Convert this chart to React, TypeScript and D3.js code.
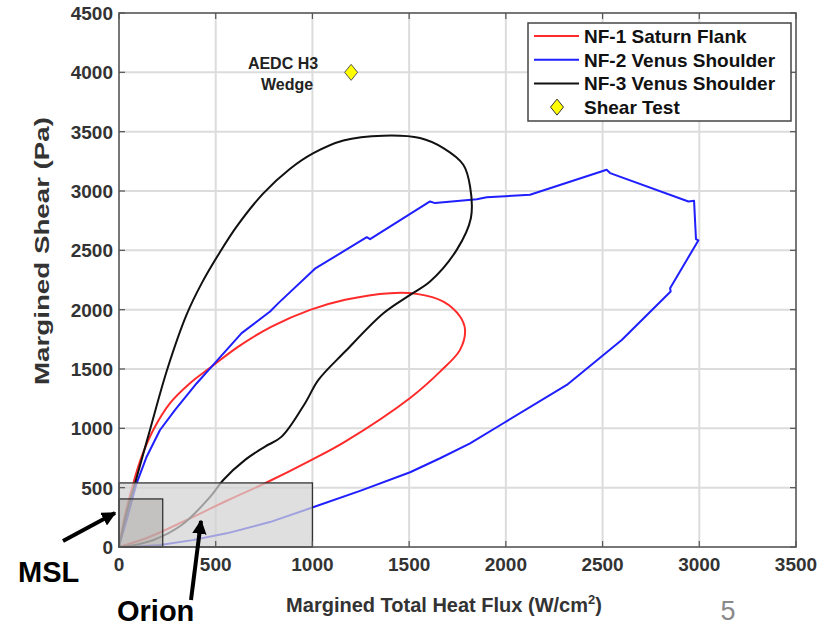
import React from "react";
import * as d3 from "d3";

// chart values
const xTicks = [0, 500, 1000, 1500, 2000, 2500, 3000, 3500];
const yTicks = [0, 500, 1000, 1500, 2000, 2500, 3000, 3500, 4000, 4500];

// NF-1 Saturn Flank  [heat flux, shear]
const nf1 = [
  [0, 0], [30, 260], [74, 537], [117, 761], [177, 986], [264, 1212], [367, 1380],
  [479, 1520], [617, 1689], [789, 1857], [988, 1998], [1169, 2083], [1401, 2139],
  [1539, 2133], [1677, 2068], [1763, 1942], [1789, 1830], [1763, 1661], [1660, 1478],
  [1505, 1256], [1169, 888], [996, 734], [755, 537], [565, 396], [350, 228], [150, 80],
  [0, 0],
];

// NF-2 Venus Shoulder
const nf2 = [
  [0, 0], [15, 90], [40, 230], [91, 537], [143, 761], [212, 986], [290, 1155], [402, 1380],
  [479, 1520], [634, 1802], [781, 1984], [824, 2055], [1013, 2345], [1281, 2611],
  [1298, 2594], [1608, 2912], [1634, 2898], [1850, 2931], [1901, 2948], [2125, 2968],
  [2521, 3179], [2539, 3151], [2944, 2912], [2973, 2917], [2983, 2594], [2995, 2583],
  [2849, 2181], [2852, 2153], [2599, 1745], [2315, 1366], [1987, 1043], [1815, 874],
  [1660, 748], [1505, 630], [1250, 475], [988, 326], [780, 210], [557, 115], [380, 58],
  [212, 17], [80, 3], [0, 0],
];

// NF-3 Venus Shoulder
const nf3 = [
  [0, 0], [35, 260], [83, 537], [160, 986], [250, 1500], [350, 1960], [430, 2230],
  [520, 2480], [608, 2700], [746, 2980], [883, 3186], [1005, 3319], [1160, 3426],
  [1367, 3466], [1556, 3446], [1677, 3361], [1780, 3221], [1815, 3038], [1819, 2770],
  [1746, 2504], [1608, 2237], [1505, 2125], [1367, 1970], [1169, 1647], [1031, 1408],
  [962, 1212], [841, 930], [755, 846], [652, 734], [539, 565], [470, 420], [324, 185],
  [178, 59], [60, 10], [0, 0],
];

const shearTest = [[1200, 4000]];
const orionBox = [1000, 540];
const mslBox = [226, 405];

const legendItems = [
  { label: "NF-1 Saturn Flank", color: "#ff2a2a", kind: "line" },
  { label: "NF-2 Venus Shoulder", color: "#1f1fff", kind: "line" },
  { label: "NF-3 Venus Shoulder", color: "#111111", kind: "line" },
  { label: "Shear Test", color: "#ffff00", kind: "diamond" },
];

const W = 824;
const H = 626;
const margin = { top: 13, right: 28, bottom: 79, left: 119 };
const font = "'Liberation Sans', Arial, Helvetica, sans-serif";

export default function App() {
  const x = d3.scaleLinear().domain([0, 3500]).range([margin.left, W - margin.right]);
  const y = d3.scaleLinear().domain([0, 4500]).range([H - margin.bottom, margin.top]);

  const smooth = d3.line<number[]>().x(d => x(d[0])).y(d => y(d[1])).curve(d3.curveCatmullRom.alpha(0.5));
  const straight = d3.line<number[]>().x(d => x(d[0])).y(d => y(d[1]));

  const diamond = (cx: number, cy: number) =>
    `M${cx},${cy - 8}L${cx + 6.5},${cy}L${cx},${cy + 8}L${cx - 6.5},${cy}Z`;

  const x0 = x(0), x1 = x(3500), y0 = y(0), y1 = y(4500);

  return (
    <svg width={W} height={H} style={{ position: "absolute", left: 0, top: 0, background: "#fff" }}>
      <defs>
        <marker id="ah" viewBox="0 0 10 10" refX="9" refY="5" markerWidth="3.6" markerHeight="3.6" orient="auto">
          <path d="M0,0L10,5L0,10Z" fill="#000" />
        </marker>
      </defs>

      {/* grid */}
      <g stroke="#dcdcdc" strokeWidth={2}>
        {xTicks.slice(1, -1).map(t => <line key={"gx" + t} x1={x(t)} x2={x(t)} y1={y1} y2={y0} />)}
        {yTicks.slice(1, -1).map(t => <line key={"gy" + t} x1={x0} x2={x1} y1={y(t)} y2={y(t)} />)}
      </g>

      {/* curves */}
      <path d={smooth(nf1) || ""} fill="none" stroke="#ff2a2a" strokeWidth={2} />
      <path d={straight(nf2) || ""} fill="none" stroke="#1f1fff" strokeWidth={2} strokeLinejoin="round" />
      <path d={smooth(nf3) || ""} fill="none" stroke="#111" strokeWidth={2} />

      {/* Orion and MSL boxes */}
      <rect x={x(0)} y={y(orionBox[1])} width={x(orionBox[0]) - x(0)} height={y(0) - y(orionBox[1])}
        fill="#d2d2d2" fillOpacity={0.72} stroke="#333" strokeWidth={1.3} />
      <rect x={x(0)} y={y(mslBox[1])} width={x(mslBox[0]) - x(0)} height={y(0) - y(mslBox[1])}
        fill="#9a9590" fillOpacity={0.4} stroke="#333" strokeWidth={1.3} />

      {/* shear test */}
      {shearTest.map((d, i) => (
        <path key={i} d={diamond(x(d[0]), y(d[1]))} fill="#ffff00" stroke="#555" strokeWidth={1} />
      ))}
      <g fontFamily={font} fontWeight="bold" fontSize={16} fill="#222" textAnchor="middle">
        <text x={283} y={69}>AEDC H3</text>
        <text x={287} y={90}>Wedge</text>
      </g>

      {/* frame and ticks */}
      <rect x={x0} y={y1} width={x1 - x0} height={y0 - y1} fill="none" stroke="#555" strokeWidth={1.6} />
      <g stroke="#555" strokeWidth={1.2}>
        {xTicks.map(t => (
          <g key={"tx" + t}>
            <line x1={x(t)} x2={x(t)} y1={y0} y2={y0 - 6} />
            <line x1={x(t)} x2={x(t)} y1={y1} y2={y1 + 6} />
          </g>
        ))}
        {yTicks.map(t => (
          <g key={"ty" + t}>
            <line x1={x0} x2={x0 + 6} y1={y(t)} y2={y(t)} />
            <line x1={x1} x2={x1 - 6} y1={y(t)} y2={y(t)} />
          </g>
        ))}
      </g>

      {/* tick labels */}
      <g fontFamily={font} fontWeight="bold" fontSize={19} fill="#333">
        {xTicks.map(t => (
          <text key={"lx" + t} x={x(t)} y={y0 + 24} textAnchor="middle">{t}</text>
        ))}
        {yTicks.map(t => (
          <text key={"ly" + t} x={x0 - 6} y={y(t) + 7} textAnchor="end">{t}</text>
        ))}
      </g>

      {/* axis titles */}
      <text x={444} y={612} textAnchor="middle" fontFamily={font} fontWeight="bold" fontSize={20} fill="#333">
        Margined Total Heat Flux (W/cm<tspan dy={-8} fontSize={13}>2</tspan><tspan dy={8}>)</tspan>
      </text>
      <text transform="translate(49,251) rotate(-90)" textAnchor="middle" fontFamily={font} fontWeight="bold"
        fontSize={21} fill="#333" textLength={268} lengthAdjust="spacingAndGlyphs">
        Margined Shear (Pa)
      </text>

      {/* legend */}
      <rect x={528} y={23} width={263} height={98} fill="#fff" stroke="#444" strokeWidth={1.5} />
      <g fontFamily={font} fontWeight="bold" fontSize={19} fill="#111">
        {legendItems.map((it, i) => {
          const cy = 36 + i * 23.7;
          return (
            <g key={it.label}>
              {it.kind === "line" ? (
                <line x1={534} x2={579} y1={cy} y2={cy} stroke={it.color} strokeWidth={2} />
              ) : (
                <path d={diamond(557, cy)} fill={it.color} stroke="#333" strokeWidth={1} />
              )}
              <text x={584} y={cy + 7}>{it.label}</text>
            </g>
          );
        })}
      </g>

      {/* annotations */}
      <line x1={63} y1={541} x2={115} y2={513} stroke="#000" strokeWidth={4} markerEnd="url(#ah)" />
      <line x1={191} y1={600} x2={201} y2={521} stroke="#000" strokeWidth={4} markerEnd="url(#ah)" />
      <g fontFamily={font} fontWeight="bold" fontSize={29} fill="#000">
        <text x={18} y={582}>MSL</text>
        <text x={117} y={621}>Orion</text>
      </g>
      <text x={728} y={620} textAnchor="middle" fontFamily={font} fontSize={27} fill="#8a8a8a">5</text>
    </svg>
  );
}
